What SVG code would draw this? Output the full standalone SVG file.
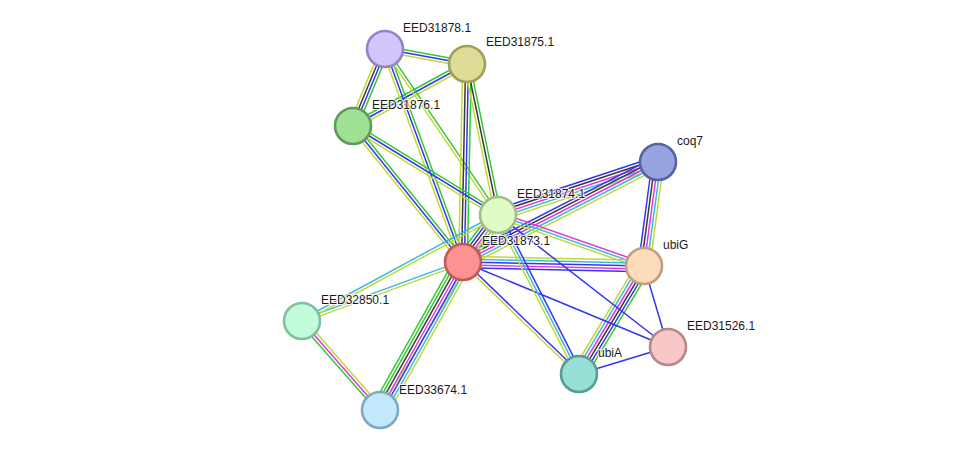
<svg xmlns="http://www.w3.org/2000/svg" width="976" height="457" viewBox="0 0 976 457">
<style>
line{stroke-width:1.3;fill:none}
.s{stroke-width:1.5}
.g{stroke:#33c933}.b{stroke:#3535f5}.k{stroke:#3a3a3a}.m{stroke:#e035e0}.c{stroke:#3cb8e0}.y{stroke:#c2d838}
circle{stroke-width:2.6}
text{font-family:"Liberation Sans",Arial,sans-serif;font-size:12px;fill:#1a1a1a;stroke:#ffffff;stroke-width:2.2;stroke-opacity:0.85;paint-order:stroke;stroke-linejoin:round}
</style>
<rect width="976" height="457" fill="#ffffff"/>
<g id="connectors">
  <g transform="translate(385,49) rotate(10.37) scale(1,1.15)"><line class="g" x1="0" y1="-2.5" x2="83.4" y2="-2.5"/><line class="b" x1="0" y1="0" x2="83.4" y2="0"/><line class="y" x1="0" y1="2.5" x2="83.4" y2="2.5"/></g>
  <g transform="translate(385,49) rotate(112.57) scale(1,1.15)"><line class="g" x1="0" y1="-3.75" x2="83.4" y2="-3.75"/><line class="b" x1="0" y1="-1.25" x2="83.4" y2="-1.25"/><line class="k" x1="0" y1="1.25" x2="83.4" y2="1.25"/><line class="y" x1="0" y1="3.75" x2="83.4" y2="3.75"/></g>
  <g transform="translate(467,64) rotate(151.46) scale(1,1.15)"><line class="y" x1="0" y1="-2.5" x2="129.8" y2="-2.5"/><line class="b" x1="0" y1="0" x2="129.8" y2="0"/><line class="g" x1="0" y1="2.5" x2="129.8" y2="2.5"/></g>
  <g transform="translate(385,49) rotate(69.89) scale(1,1.15)"><line class="g" x1="0" y1="-2.5" x2="226.8" y2="-2.5"/><line class="b" x1="0" y1="0" x2="226.8" y2="0"/><line class="y" x1="0" y1="2.5" x2="226.8" y2="2.5"/></g>
  <g transform="translate(385,49) rotate(55.76) scale(1,1.15)"><line class="g" x1="0" y1="-1.25" x2="200.8" y2="-1.25"/><line class="y" x1="0" y1="1.25" x2="200.8" y2="1.25"/></g>
  <g transform="translate(467,64) rotate(91.16) scale(1,1.15)"><line class="g" x1="0" y1="-3.75" x2="198" y2="-3.75"/><line class="b" x1="0" y1="-1.25" x2="198" y2="-1.25"/><line class="k" x1="0" y1="1.25" x2="198" y2="1.25"/><line class="y" x1="0" y1="3.75" x2="198" y2="3.75"/></g>
  <g transform="translate(467,64) rotate(78.40) scale(1,1.15)"><line class="g" x1="0" y1="-2.5" x2="154.2" y2="-2.5"/><line class="k" x1="0" y1="0" x2="154.2" y2="0"/><line class="y" x1="0" y1="2.5" x2="154.2" y2="2.5"/></g>
  <g transform="translate(353,126) rotate(51.03) scale(1,1.15)"><line class="g" x1="0" y1="-2.5" x2="174.9" y2="-2.5"/><line class="b" x1="0" y1="0" x2="174.9" y2="0"/><line class="y" x1="0" y1="2.5" x2="174.9" y2="2.5"/></g>
  <g transform="translate(353,126) rotate(31.54) scale(1,1.15)"><line class="g" x1="0" y1="-2.5" x2="170.1" y2="-2.5"/><line class="b" x1="0" y1="0" x2="170.1" y2="0"/><line class="y" x1="0" y1="2.5" x2="170.1" y2="2.5"/></g>
  <g transform="translate(498,215) rotate(-18.33) scale(1,1.15)"><line class="b" x1="0" y1="-5" x2="168.6" y2="-5"/><line class="k" x1="0" y1="-2.5" x2="168.6" y2="-2.5"/><line class="m" x1="0" y1="0" x2="168.6" y2="0"/><line class="c" x1="0" y1="2.5" x2="168.6" y2="2.5"/><line class="y" x1="0" y1="5" x2="168.6" y2="5"/></g>
  <g transform="translate(463,262) rotate(-27.15) scale(1,1.15)"><line class="b" x1="0" y1="-5" x2="219.2" y2="-5"/><line class="k" x1="0" y1="-2.5" x2="219.2" y2="-2.5"/><line class="m" x1="0" y1="0" x2="219.2" y2="0"/><line class="c" x1="0" y1="2.5" x2="219.2" y2="2.5"/><line class="y" x1="0" y1="5" x2="219.2" y2="5"/></g>
  <g transform="translate(658,162) rotate(97.67) scale(1,1.15)"><line class="y" x1="0" y1="-5" x2="104.9" y2="-5"/><line class="c" x1="0" y1="-2.5" x2="104.9" y2="-2.5"/><line class="m" x1="0" y1="0" x2="104.9" y2="0"/><line class="k" x1="0" y1="2.5" x2="104.9" y2="2.5"/><line class="b" x1="0" y1="5" x2="104.9" y2="5"/></g>
  <g transform="translate(498,215) rotate(19.26) scale(1,1.15)"><line class="m" x1="0" y1="-2.5" x2="154.7" y2="-2.5"/><line class="c" x1="0" y1="0" x2="154.7" y2="0"/><line class="y" x1="0" y1="2.5" x2="154.7" y2="2.5"/></g>
  <g transform="translate(463,262) rotate(1.27) scale(1,1.15)"><line class="y" x1="0" y1="-5" x2="181" y2="-5"/><line class="c" x1="0" y1="-2.5" x2="181" y2="-2.5"/><line class="b" x1="0" y1="0" x2="181" y2="0"/><line class="m" x1="0" y1="2.5" x2="181" y2="2.5"/><line class="b" x1="0" y1="5" x2="181" y2="5"/></g>
  <g transform="translate(644,266) rotate(121.04) scale(1,1.15)"><line class="g" x1="0" y1="-6.25" x2="126" y2="-6.25"/><line class="b" x1="0" y1="-3.75" x2="126" y2="-3.75"/><line class="k" x1="0" y1="-1.25" x2="126" y2="-1.25"/><line class="m" x1="0" y1="1.25" x2="126" y2="1.25"/><line class="c" x1="0" y1="3.75" x2="126" y2="3.75"/><line class="y" x1="0" y1="6.25" x2="126" y2="6.25"/></g>
  <line class="b s" x1="644" y1="266" x2="668" y2="347"/>
  <line class="b s" x1="463" y1="262" x2="668" y2="347"/>
  <line class="b s" x1="498" y1="215" x2="668" y2="347"/>
  <line class="b s" x1="579" y1="374" x2="668" y2="347"/>
  <g transform="translate(463,262) rotate(43.99) scale(1,1.15)"><line class="b" x1="0" y1="-1.25" x2="161.2" y2="-1.25"/><line class="y" x1="0" y1="1.25" x2="161.2" y2="1.25"/></g>
  <g transform="translate(498,215) rotate(63.00) scale(1,1.15)"><line class="b" x1="0" y1="-2.5" x2="178.4" y2="-2.5"/><line class="c" x1="0" y1="0" x2="178.4" y2="0"/><line class="y" x1="0" y1="2.5" x2="178.4" y2="2.5"/></g>
  <g transform="translate(463,262) rotate(-53.33) scale(1,1.15)"><line class="g" x1="0" y1="-6.25" x2="58.6" y2="-6.25"/><line class="b" x1="0" y1="-3.75" x2="58.6" y2="-3.75"/><line class="k" x1="0" y1="-1.25" x2="58.6" y2="-1.25"/><line class="m" x1="0" y1="1.25" x2="58.6" y2="1.25"/><line class="c" x1="0" y1="3.75" x2="58.6" y2="3.75"/><line class="y" x1="0" y1="6.25" x2="58.6" y2="6.25"/></g>
  <g transform="translate(302,321) rotate(-20.12) scale(1,1.15)"><line class="c" x1="0" y1="-1.25" x2="171.5" y2="-1.25"/><line class="y" x1="0" y1="1.25" x2="171.5" y2="1.25"/></g>
  <g transform="translate(302,321) rotate(-28.40) scale(1,1.15)"><line class="c" x1="0" y1="-1.25" x2="222.8" y2="-1.25"/><line class="y" x1="0" y1="1.25" x2="222.8" y2="1.25"/></g>
  <g transform="translate(302,321) rotate(48.77) scale(1,1.15)"><line class="y" x1="0" y1="-2.5" x2="118.3" y2="-2.5"/><line class="m" x1="0" y1="0" x2="118.3" y2="0"/><line class="g" x1="0" y1="2.5" x2="118.3" y2="2.5"/></g>
  <g transform="translate(498,215) rotate(121.18) scale(1,1.15)"><line class="y" x1="0" y1="0" x2="227.9" y2="0"/></g>
  <g transform="translate(463,262) rotate(119.29) scale(1,1.15)"><line class="y" x1="0" y1="-7.5" x2="169.7" y2="-7.5"/><line class="c" x1="0" y1="-5" x2="169.7" y2="-5"/><line class="b" x1="0" y1="-2.5" x2="169.7" y2="-2.5"/><line class="m" x1="0" y1="0" x2="169.7" y2="0"/><line class="k" x1="0" y1="2.5" x2="169.7" y2="2.5"/><line class="g" x1="0" y1="5" x2="169.7" y2="5"/><line class="g" x1="0" y1="7.5" x2="169.7" y2="7.5"/></g>
</g>
<g id="EED31878.1"><circle cx="385" cy="49" r="18" fill="#d4c4fc" stroke="#9484c4"/><text x="403" y="32">EED31878.1</text></g>
<g id="EED31875.1"><circle cx="467" cy="64" r="18" fill="#dedc96" stroke="#a0a05a"/><text x="486" y="46">EED31875.1</text></g>
<g id="EED31876.1"><circle cx="353" cy="126" r="18" fill="#a0e094" stroke="#5e9c56"/><text x="372" y="109">EED31876.1</text></g>
<g id="coq7"><circle cx="658" cy="162" r="18" fill="#98a4e0" stroke="#5862a2"/><text x="677" y="145">coq7</text></g>
<g id="EED31874.1"><circle cx="498" cy="215" r="18" fill="#e0fcc4" stroke="#a2bc8a"/><text x="517" y="198">EED31874.1</text></g>
<g id="EED31873.1"><circle cx="463" cy="262" r="18" fill="#fc9292" stroke="#c05a5a"/><text x="482" y="245">EED31873.1</text></g>
<g id="ubiG"><circle cx="644" cy="266" r="18" fill="#fcdcba" stroke="#c0a080"/><text x="663" y="249">ubiG</text></g>
<g id="EED32850.1"><circle cx="302" cy="321" r="18" fill="#c2fcda" stroke="#80c09e"/><text x="321" y="304">EED32850.1</text></g>
<g id="EED31526.1"><circle cx="668" cy="347" r="18" fill="#f8c8c8" stroke="#b88888"/><text x="687" y="330">EED31526.1</text></g>
<g id="ubiA"><circle cx="579" cy="374" r="18" fill="#98e0d6" stroke="#589c96"/><text x="598" y="357">ubiA</text></g>
<g id="EED33674.1"><circle cx="380" cy="410" r="18" fill="#c2e8fc" stroke="#80a8c2"/><text x="399" y="394">EED33674.1</text></g>
</svg>
